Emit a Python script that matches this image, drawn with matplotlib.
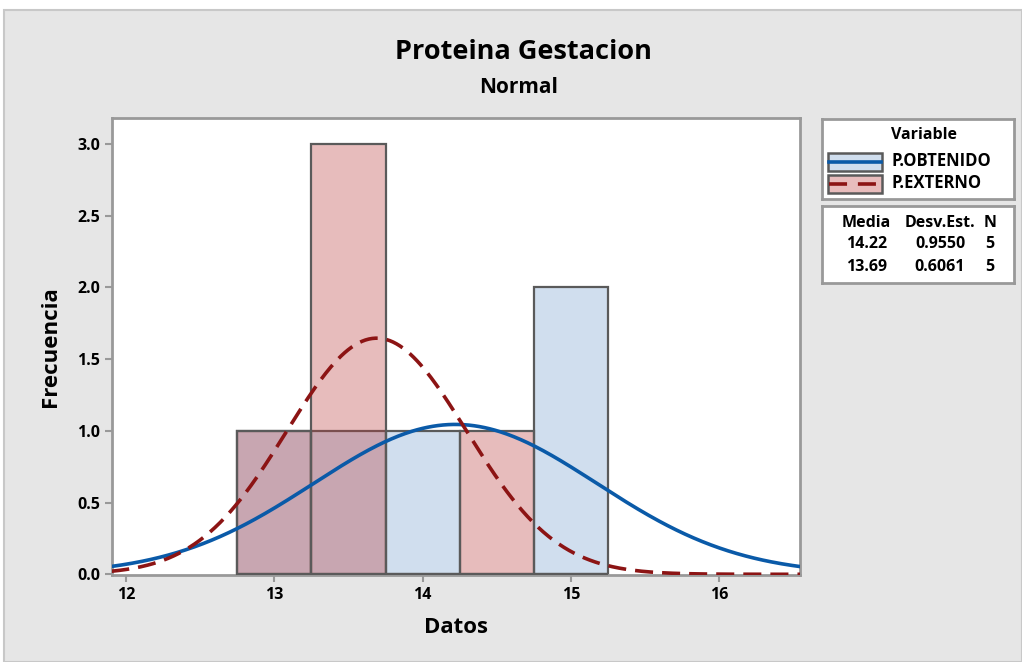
import numpy as np
import matplotlib.pyplot as plt
from matplotlib.patches import Rectangle

plt.rcParams['font.family'] = ['Open Sans', 'DejaVu Sans']

# datos del histograma (ancho de clase 0.5)
bin_edges = [12.75, 13.25, 13.75, 14.25, 14.75, 15.25]
obtenido_counts = [1, 1, 1, 0, 2]
externo_counts = [1, 3, 0, 1, 0]

variables = ['P.OBTENIDO', 'P.EXTERNO']
medias = [14.22, 13.69]
desv_est = [0.9550, 0.6061]
n_datos = [5, 5]

x_ticks = [12, 13, 14, 15, 16]
y_ticks = [0.0, 0.5, 1.0, 1.5, 2.0, 2.5, 3.0]

blue_fill = '#d0deee'
blue_line = '#0a5aa8'
red_fill = (0.73, 0.23, 0.23, 0.34)
red_line = '#8c1414'
edge = '#5a5a5a'
bg = '#e6e6e6'

fig = plt.figure(figsize=(10.22, 6.62), dpi=100, facecolor='white')
fig.patches.append(Rectangle((4 / 1022, 0), 1 - 4 / 1022, 1 - 10 / 662, transform=fig.transFigure,
                             facecolor=bg, edgecolor='#c8c8c8', linewidth=1.5, zorder=-10))

ax = fig.add_axes([0.1096, 0.1314, 0.6732, 0.6904])
ax.set_facecolor('white')

widths = np.diff(bin_edges)
lefts = bin_edges[:-1]
ax.bar(lefts, obtenido_counts, width=widths, align='edge', color=blue_fill,
       edgecolor=edge, linewidth=1.6, zorder=2)
ax.bar(lefts, externo_counts, width=widths, align='edge', color=red_fill,
       edgecolor=edge, linewidth=1.6, zorder=3)

xs = np.linspace(11.9, 16.55, 400)
binw = 0.5
for mu, sd, n, col, ls in [(medias[0], desv_est[0], n_datos[0], blue_line, '-'),
                           (medias[1], desv_est[1], n_datos[1], red_line, '--')]:
    pdf = n * binw / (sd * np.sqrt(2 * np.pi)) * np.exp(-0.5 * ((xs - mu) / sd) ** 2)
    line, = ax.plot(xs, pdf, color=col, linewidth=2.6, linestyle=ls, zorder=4)
    if ls == '--':
        line.set_dashes((5, 2.5))

ax.set_xlim(11.905, 16.545)
ax.set_ylim(-0.005, 3.18)
ax.set_xticks(x_ticks)
ax.set_yticks(y_ticks)
ax.set_yticklabels([f'{v:.1f}' for v in y_ticks])
ax.tick_params(axis='both', colors='#999999', length=5, width=1.5, labelsize=11.5,
               labelcolor='black')
for lab in ax.get_xticklabels() + ax.get_yticklabels():
    lab.set_fontweight('bold')
for s in ax.spines.values():
    s.set_color('#999999')
    s.set_linewidth(2)

ax.set_xlabel('Datos', fontsize=16, fontweight='bold', labelpad=10)
ax.set_ylabel('Frecuencia', fontsize=16, fontweight='bold', labelpad=12)

fig.text(0.512, 0.922, 'Proteina Gestacion', ha='center', va='center',
         fontsize=19.5, fontweight='bold')
fig.text(0.507, 0.868, 'Normal', ha='center', va='center',
         fontsize=15, fontweight='bold')

# leyenda de variables
lax = fig.add_axes([822 / 1022, 1 - 199 / 662, 192 / 1022, 80 / 662])
lax.set_xlim(0, 192)
lax.set_ylim(80, 0)
lax.set_xticks([])
lax.set_yticks([])
for s in lax.spines.values():
    s.set_color('#999999')
    s.set_linewidth(2)
lax.text(102, 16, 'Variable', ha='center', va='center', fontsize=11.5, fontweight='bold')
lax.add_patch(Rectangle((6, 34), 54, 18, facecolor=blue_fill, edgecolor=edge, linewidth=1.8))
lax.plot([7, 59], [43, 43], color=blue_line, linewidth=2.6)
lax.add_patch(Rectangle((6, 56), 54, 18, facecolor='#e8bcbc', edgecolor=edge, linewidth=1.8))
l2, = lax.plot([7, 59], [65, 65], color=red_line, linewidth=2.6, linestyle='--')
l2.set_dashes((5, 3))
lax.text(69, 42, variables[0], ha='left', va='center', fontsize=12, fontweight='bold')
lax.text(69, 64, variables[1], ha='left', va='center', fontsize=12, fontweight='bold')

# tabla de estadisticos
sax = fig.add_axes([822 / 1022, 1 - 283 / 662, 192 / 1022, 77 / 662])
sax.set_xlim(0, 192)
sax.set_ylim(77, 0)
sax.set_xticks([])
sax.set_yticks([])
for s in sax.spines.values():
    s.set_color('#999999')
    s.set_linewidth(2)
sax.text(44, 17, 'Media', ha='center', va='center', fontsize=11.5, fontweight='bold')
sax.text(118, 17, 'Desv.Est.', ha='center', va='center', fontsize=11.5, fontweight='bold')
sax.text(168, 17, 'N', ha='center', va='center', fontsize=11.5, fontweight='bold')
for i in range(2):
    y = 38 + i * 23
    sax.text(45, y, f'{medias[i]:.2f}', ha='center', va='center', fontsize=11.5, fontweight='bold')
    sax.text(118, y, f'{desv_est[i]:.4f}', ha='center', va='center', fontsize=11.5, fontweight='bold')
    sax.text(168, y, f'{n_datos[i]}', ha='center', va='center', fontsize=11.5, fontweight='bold')

fig.savefig('out.png', dpi=100, facecolor=fig.get_facecolor())
